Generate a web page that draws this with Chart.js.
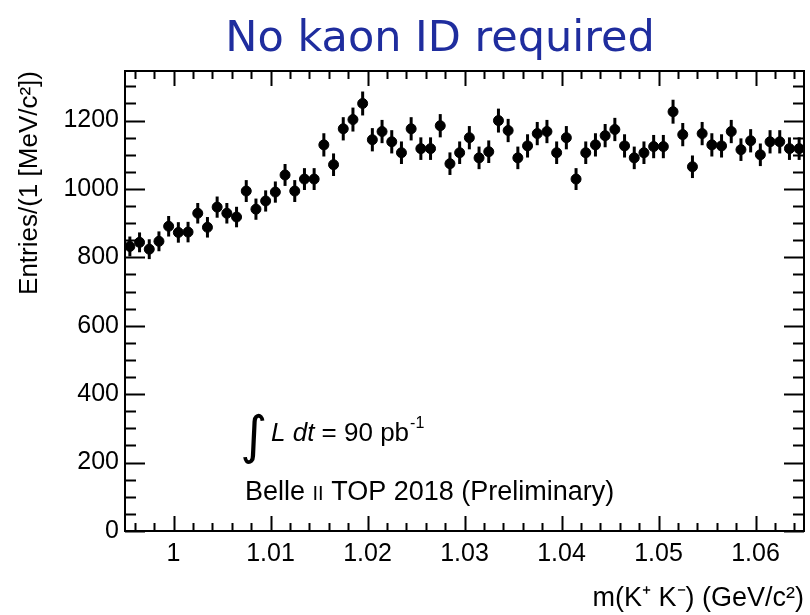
<!DOCTYPE html>
<html>
<head>
<meta charset="utf-8">
<script src="https://cdn.jsdelivr.net/npm/chart.js@4.4.1/dist/chart.umd.min.js"></script>
<style>
  html, body { margin: 0; padding: 0; background: #fff; }
</style>
</head>
<body>
<canvas id="myChart" width="810" height="615"></canvas>
<script>
/* global Chart */

// bin centres, 1 MeV bins from 0.995 to 1.065 GeV
const binCentres = [
  0.9955, 0.9965, 0.9975, 0.9985, 0.9995, 1.0005, 1.0015, 1.0025, 1.0035, 1.0045,
  1.0055, 1.0065, 1.0075, 1.0085, 1.0095, 1.0105, 1.0115, 1.0125, 1.0135, 1.0145,
  1.0155, 1.0165, 1.0175, 1.0185, 1.0195, 1.0205, 1.0215, 1.0225, 1.0235, 1.0245,
  1.0255, 1.0265, 1.0275, 1.0285, 1.0295, 1.0305, 1.0315, 1.0325, 1.0335, 1.0345,
  1.0355, 1.0365, 1.0375, 1.0385, 1.0395, 1.0405, 1.0415, 1.0425, 1.0435, 1.0445,
  1.0455, 1.0465, 1.0475, 1.0485, 1.0495, 1.0505, 1.0515, 1.0525, 1.0535, 1.0545,
  1.0555, 1.0565, 1.0575, 1.0585, 1.0595, 1.0605, 1.0615, 1.0625, 1.0635, 1.0645
];

// entries per bin
const entries = [
  832, 844, 824, 847, 891, 873, 874, 929, 888, 947,
  929, 918, 994, 941, 965, 991, 1041, 994, 1029, 1029,
  1129, 1071, 1176, 1203, 1250, 1144, 1168, 1138, 1106, 1176,
  1118, 1118, 1185, 1074, 1106, 1150, 1091, 1109, 1200, 1171,
  1091, 1126, 1162, 1168, 1106, 1150, 1029, 1106, 1129, 1156,
  1174, 1126, 1091, 1106, 1124, 1124, 1226, 1159, 1065, 1162,
  1129, 1126, 1168, 1115, 1141, 1100, 1138, 1138, 1118, 1118
];

// error bar half lengths
const errors = [
  29, 29, 29, 29, 30, 30, 30, 30, 30, 31,
  30, 30, 32, 31, 31, 31, 32, 32, 32, 32,
  34, 33, 34, 35, 35, 34, 34, 34, 33, 34,
  33, 33, 34, 33, 33, 34, 33, 33, 35, 34,
  33, 34, 34, 34, 33, 34, 32, 33, 34, 34,
  34, 34, 33, 33, 34, 34, 35, 34, 33, 34,
  34, 34, 34, 33, 34, 33, 34, 34, 33, 33
];

const xTicks = [1.00, 1.01, 1.02, 1.03, 1.04, 1.05, 1.06];
const xTickLabels = ['1', '1.01', '1.02', '1.03', '1.04', '1.05', '1.06'];
const yTicks = [0, 200, 400, 600, 800, 1000, 1200];
const yTickLabels = ['0', '200', '400', '600', '800', '1000', '1200'];

const FONT = '"Liberation Sans", Arial, Helvetica, sans-serif';

// vertical error bars
const errorBars = {
  id: 'errorBars',
  beforeDatasetsDraw(chart) {
    const {ctx, scales: {x, y}} = chart;
    ctx.save();
    ctx.strokeStyle = '#000';
    ctx.lineWidth = 3;
    binCentres.forEach(function(m, i) {
      const px = x.getPixelForValue(m);
      ctx.beginPath();
      ctx.moveTo(px, y.getPixelForValue(entries[i] - errors[i]));
      ctx.lineTo(px, y.getPixelForValue(entries[i] + errors[i]));
      ctx.stroke();
    });
    ctx.restore();
  }
};

// ROOT style frame with inward ticks on all sides
const frame = {
  id: 'frame',
  afterDraw(chart) {
    const {ctx, chartArea: a, scales: {x, y}} = chart;
    ctx.save();
    ctx.strokeStyle = '#000';
    ctx.lineWidth = 2;
    ctx.strokeRect(a.left, a.top, a.right - a.left, a.bottom - a.top);

    ctx.beginPath();
    // x ticks, minor every 0.002
    for (let k = 498; k <= 532; k++) {
      const v = k * 0.002;
      if (v < x.min || v > x.max) continue;
      const px = Math.round(x.getPixelForValue(v)) + 0.5;
      const len = (k % 5 === 0) ? 15 : 8;
      ctx.moveTo(px, a.bottom); ctx.lineTo(px, a.bottom - len);
      ctx.moveTo(px, a.top); ctx.lineTo(px, a.top + len);
    }
    // y ticks, minor every 50
    for (let v = 0; v <= y.max; v += 50) {
      const py = Math.round(y.getPixelForValue(v)) + 0.5;
      const len = (v % 200 === 0) ? 20 : 11;
      ctx.moveTo(a.left, py); ctx.lineTo(a.left + len, py);
      ctx.moveTo(a.right, py); ctx.lineTo(a.right - len, py);
    }
    ctx.stroke();
    ctx.restore();
  }
};

// title and text inside the frame
const labels = {
  id: 'labels',
  afterDraw(chart) {
    const ctx = chart.ctx;
    ctx.save();
    ctx.textBaseline = 'alphabetic';

    // slide title
    ctx.textAlign = 'center';
    ctx.fillStyle = '#1f2d9e';
    ctx.font = '43px "DejaVu Sans", Verdana, sans-serif';
    ctx.fillText('No kaon ID required', 440, 51);

    ctx.textAlign = 'left';
    ctx.fillStyle = '#000';

    // integrated luminosity
    let cx = 240;
    ctx.font = '52px "DejaVu Sans"';
    ctx.fillText('\u222B', cx, 453);
    cx = 271;
    ctx.font = 'italic 26px ' + FONT;
    ctx.fillText('L', cx, 441);
    cx += ctx.measureText('L ').width;
    ctx.fillText('dt', cx, 441);
    cx += ctx.measureText('dt').width;
    ctx.font = '26px ' + FONT;
    ctx.fillText(' = 90 pb', cx, 441);
    cx += ctx.measureText(' = 90 pb').width;
    ctx.font = '16px ' + FONT;
    ctx.fillText('-1', cx + 1, 428);

    // experiment label
    cx = 245;
    ctx.font = '27px ' + FONT;
    ctx.fillText('Belle ', cx, 500);
    cx += ctx.measureText('Belle ').width;
    ctx.font = '20px ' + FONT;
    ctx.fillText('II', cx, 500);
    cx += ctx.measureText('II').width;
    ctx.font = '27px ' + FONT;
    ctx.fillText(' TOP 2018 (Preliminary)', cx, 500);
    ctx.restore();
  }
};

const ctx = document.getElementById('myChart').getContext('2d');

// eslint-disable-next-line no-unused-vars
const chart = new Chart(ctx, {
  type: 'scatter',
  data: {
    datasets: [{
      label: 'Entries',
      data: binCentres.map(function(m, i) { return {x: m, y: entries[i]}; }),
      backgroundColor: '#000',
      borderColor: '#000',
      borderWidth: 1,
      pointRadius: 5,
    }]
  },
  options: {
    responsive: false,
    animation: false,
    layout: { padding: { left: 0, right: 6, top: 71, bottom: 0 } },
    plugins: {
      legend: { display: false },
      tooltip: { enabled: false },
    },
    scales: {
      x: {
        type: 'linear',
        min: 0.995,
        max: 1.065,
        afterBuildTicks: function(s) { s.ticks = xTicks.map(function(v) { return {value: v}; }); },
        afterFit: function(s) { s.height = 84; },
        grid: { display: false, drawTicks: false },
        border: { display: false },
        ticks: {
          color: '#000',
          padding: 8,
          maxRotation: 0,
          font: { family: FONT, size: 25 },
          callback: function(v) { return xTickLabels[xTicks.indexOf(v)]; },
        },
        title: {
          display: true,
          align: 'end',
          text: 'm(K\u207A K\u207B) (GeV/c\u00B2)',
          color: '#000',
          font: { family: FONT, size: 27 },
          padding: { top: 0, bottom: 0 },
        },
      },
      y: {
        min: 0,
        max: 1345,
        afterBuildTicks: function(s) { s.ticks = yTicks.map(function(v) { return {value: v}; }); },
        afterFit: function(s) { s.width = 125; },
        grid: { display: false, drawTicks: false },
        border: { display: false },
        ticks: {
          color: '#000',
          padding: 6,
          font: { family: FONT, size: 25 },
          callback: function(v) { return yTickLabels[yTicks.indexOf(v)]; },
        },
        title: {
          display: true,
          align: 'end',
          text: 'Entries/(1 [MeV/c\u00B2])',
          color: '#000',
          font: { family: FONT, size: 26 },
          padding: { top: 14, bottom: 0 },
        },
      },
    },
  },
  plugins: [errorBars, frame, labels],
});
</script>
</body>
</html>
